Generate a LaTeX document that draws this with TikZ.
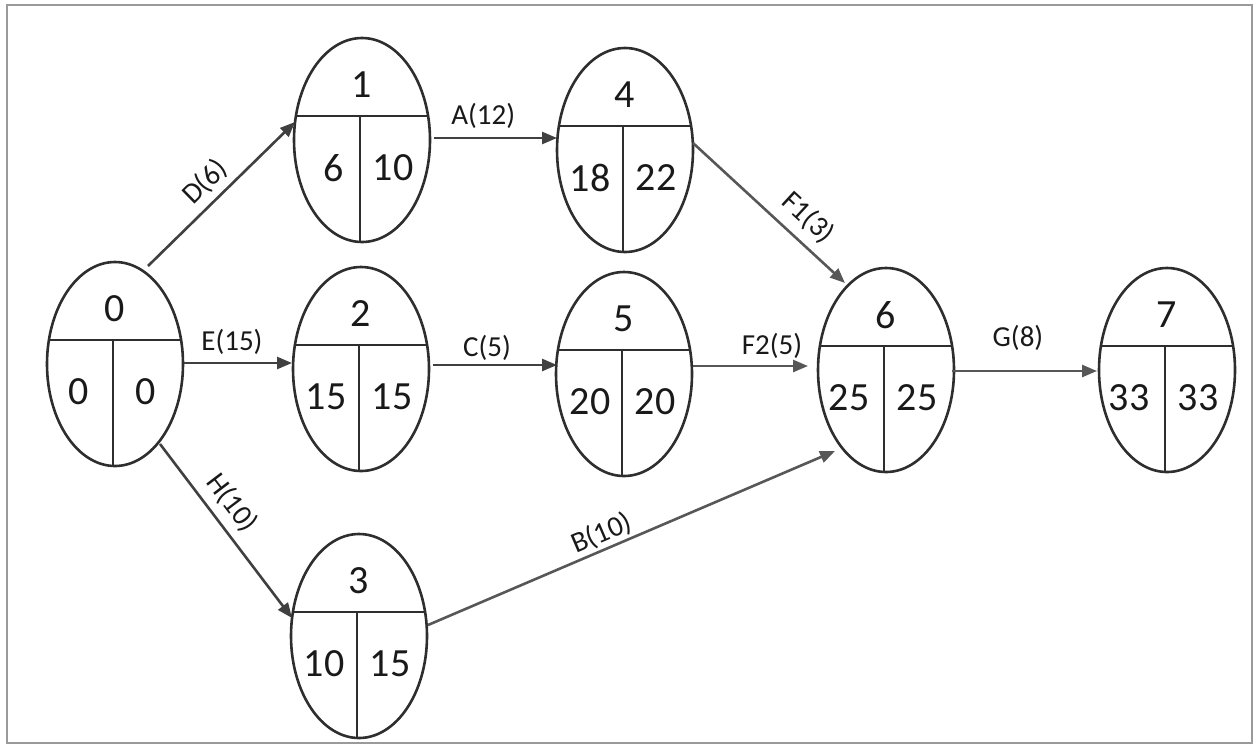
\documentclass[tikz,border=0pt]{standalone}
\usepackage{fontspec}
\setmainfont{Carlito}
\usetikzlibrary{shapes.geometric,arrows.meta,calc}
\definecolor{inkc}{HTML}{2E2E2E}
\definecolor{edgea}{HTML}{404040}
\definecolor{edgeb}{HTML}{575757}
\definecolor{framec}{HTML}{9A9A9A}
\newcommand\evnode[7]{%
  \node[ev] (#1) at (#2,#3) {};
  \draw[div] ($(#1)+(-66,-24)$) -- ($(#1)+(66,-24)$);
  \draw[div] ($(#1)+(-2,-24)$) -- ($(#1)+(-2,102)$);
  \node[num] (#1t) at ($(#1)+(0,-55)$) {#4};
  \node[num] (#1l) at ($(#1)+(#7,28)$) {#5};
  \node[num] (#1r) at ($(#1)+(31,28)$) {#6};
}
\begin{document}
\begin{tikzpicture}[x=1pt,y=-1pt,
  ev/.style={ellipse,draw=inkc,line width=2.6pt,minimum width=136pt,minimum height=204pt,inner sep=0pt},
  div/.style={draw=inkc,line width=2.6pt},
  num/.style={inner sep=0pt,text=black!90,font=\fontsize{40}{48}\selectfont},
  lab/.style={inner sep=0pt,text=black!90,font=\fontsize{29}{35}\selectfont,sloped},
  edge/.style={draw=edgea,line width=2.6pt,-{Triangle[length=15pt,width=12pt]}},
  edgel/.style={edge,draw=edgeb},
  frame/.style={draw=framec,line width=2pt}]
\useasboundingbox (0,0) rectangle (1257,750);
\draw[frame] (7,5) rectangle (1252,743);
\evnode{n0}{115}{364}{0}{0}{0}{-36}
\evnode{n1}{362}{140}{1}{6}{10}{-28}
\evnode{n2}{361}{369}{2}{15}{15}{-35}
\evnode{n3}{359}{636}{3}{10}{15}{-35}
\evnode{n4}{625}{150}{4}{18}{22}{-35}
\evnode{n5}{624}{374}{5}{20}{20}{-34}
\evnode{n6}{886}{370}{6}{25}{25}{-37}
\evnode{n7}{1167}{370}{7}{33}{33}{-38}
\draw[edge] ($(n0)+(33,-98)$) -- node[lab,pos=.483,above=6pt] (lD) {D(6)} ($(n1)+(-67,-18)$);
\draw[edge] ($(n0)+(69,-1)$) -- node[lab,pos=.444,above=7pt] (lE) {E(15)} ($(n2)+(-69,-6)$);
\draw[edge] ($(n0)+(45,80)$) -- node[lab,pos=.414,above=8pt] (lH) {H(10)} ($(n3)+(-67,-18)$);
\draw[edge] ($(n1)+(72,-2)$) -- node[lab,pos=.40,above=8pt] (lA) {A(12)} ($(n4)+(-68,-12)$);
\draw[edge] ($(n2)+(72,-4)$) -- node[lab,pos=.435,above=3pt] (lC) {C(5)} ($(n5)+(-67,-9)$);
\draw[edgel] ($(n4)+(68,-7)$) -- node[lab,pos=.655,above=9pt] (lF1) {F1(3)} ($(n6)+(-41,-87)$);
\draw[edgel] ($(n5)+(69,-8)$) -- node[lab,pos=.687,above=6pt] (lF2) {F2(5)} ($(n6)+(-78,-4)$);
\draw[edgel] ($(n3)+(69,-11)$) -- node[lab,pos=.442,above=2pt] (lB) {B(10)} ($(n6)+(-51,81)$);
\draw[edgel] ($(n6)+(66,1)$) -- node[lab,pos=.455,above=19pt] (lG) {G(8)} ($(n7)+(-70,1)$);
\end{tikzpicture}
\end{document}
